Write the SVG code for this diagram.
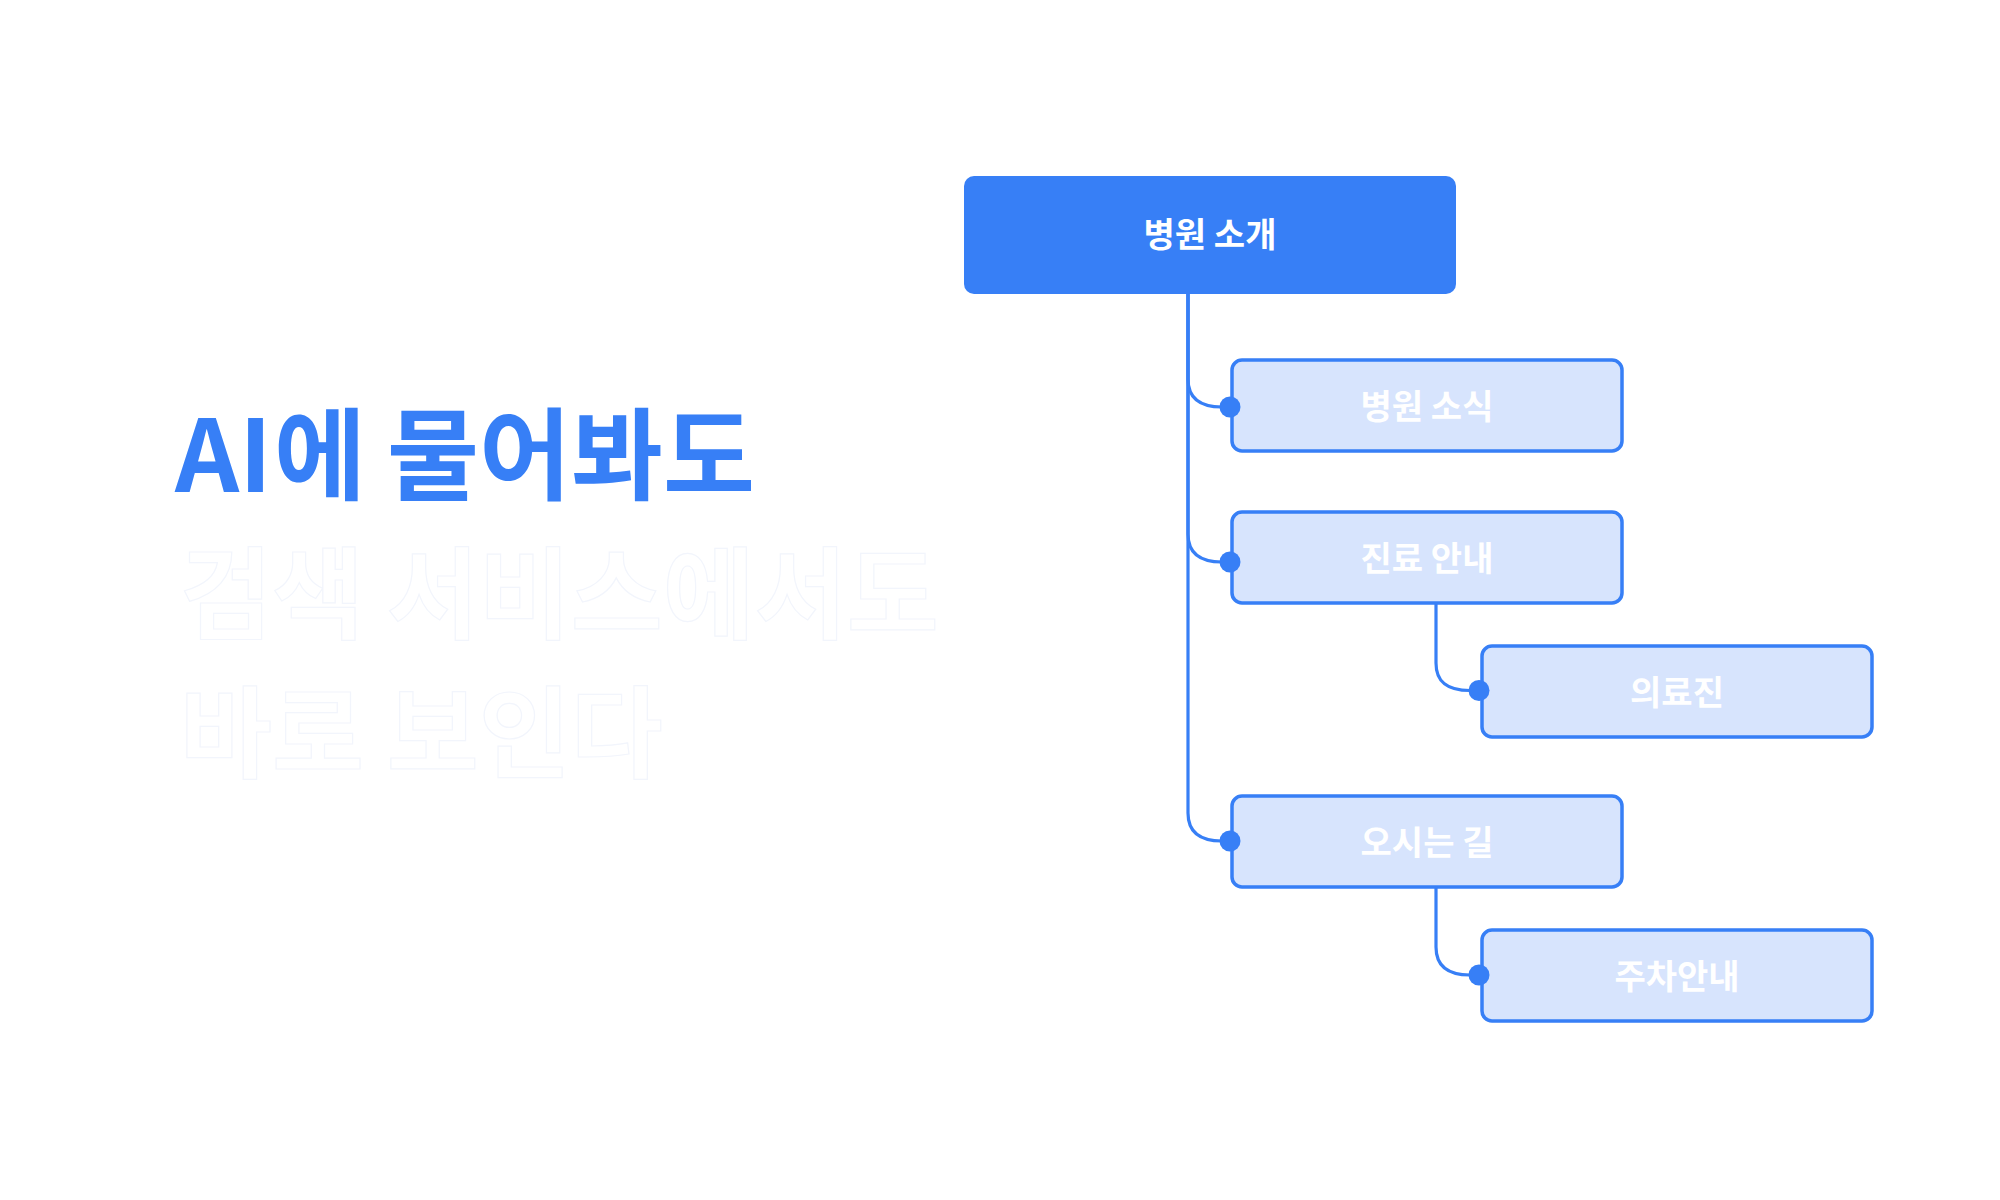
<svg xmlns="http://www.w3.org/2000/svg" width="2000" height="1200" viewBox="0 0 2000 1200">
  <style>
    .title { font-family: "Noto Sans CJK KR", "Noto Sans", sans-serif; font-size: 100px; font-weight: 700; letter-spacing: 0px; }
    .blue { fill: #377FF6; }
    .ghost { fill: #FFFFFF; stroke: #F2F5FC; stroke-width: 1.2; }
    .root { fill: #377FF6; }
    .box { fill: #D7E4FD; stroke: #377FF6; stroke-width: 3.5; }
    .label { font-family: "Noto Sans CJK KR", "Noto Sans", sans-serif; font-size: 34px; font-weight: 700; fill: #FFFFFF; text-anchor: middle; letter-spacing: 0px; }
    .link { fill: none; stroke: #377FF6; stroke-width: 3.2; }
    .dot { fill: #377FF6; }
  </style>
  <rect x="0" y="0" width="2000" height="1200" fill="#FFFFFF"/>

  <g id="headline">
    <text class="title blue" y="492"><tspan x="175">AI</tspan><tspan x="274">에</tspan><tspan x="387">물어봐도</tspan></text>
    <text class="title ghost" x="180" y="631" letter-spacing="-0.8">검색 서비스에서도</text>
    <text class="title ghost" x="180" y="770">바로 보인다</text>
  </g>

  <g id="connectors">
    <path class="link" d="M1188 294 V379 C1188 397 1198 407 1222 407 H1230"/>
    <path class="link" d="M1188 294 V534 C1188 552 1198 562 1222 562 H1230"/>
    <path class="link" d="M1188 294 V813 C1188 831 1198 841 1222 841 H1230"/>
    <path class="link" d="M1436 603 V663 C1436 681 1446 690.5 1470 690.5 H1479"/>
    <path class="link" d="M1436 887 V947 C1436 965 1446 975 1470 975 H1479"/>
  </g>

  <g id="node-root">
    <rect class="root" x="964" y="176" width="492" height="118" rx="10"/>
    <text class="label" x="1210" y="247">병원 소개</text>
  </g>

  <g id="node-news">
    <rect class="box" x="1232" y="360" width="390" height="91" rx="10"/>
    <text class="label" x="1427" y="418.5">병원 소식</text>
    <circle class="dot" cx="1230" cy="407" r="10.5"/>
  </g>

  <g id="node-clinic">
    <rect class="box" x="1232" y="512" width="390" height="91" rx="10"/>
    <text class="label" x="1427" y="570.5">진료 안내</text>
    <circle class="dot" cx="1230" cy="562" r="10.5"/>
  </g>

  <g id="node-staff">
    <rect class="box" x="1482" y="646" width="390" height="91" rx="10"/>
    <text class="label" x="1677" y="704.5">의료진</text>
    <circle class="dot" cx="1479" cy="690.5" r="10.5"/>
  </g>

  <g id="node-directions">
    <rect class="box" x="1232" y="796" width="390" height="91" rx="10"/>
    <text class="label" x="1427" y="854.5">오시는 길</text>
    <circle class="dot" cx="1230" cy="841" r="10.5"/>
  </g>

  <g id="node-parking">
    <rect class="box" x="1482" y="930" width="390" height="91" rx="10"/>
    <text class="label" x="1677" y="988.5">주차안내</text>
    <circle class="dot" cx="1479" cy="975" r="10.5"/>
  </g>
</svg>
